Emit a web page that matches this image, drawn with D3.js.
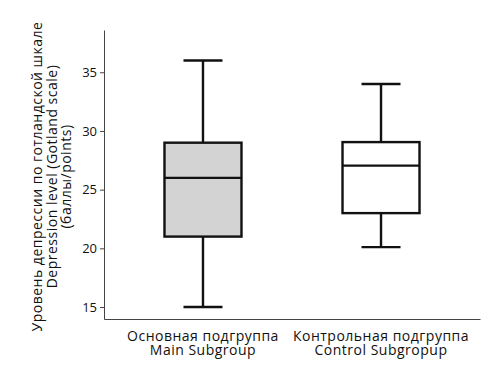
<!DOCTYPE html>
<html>
<head>
<meta charset="utf-8">
<script src="https://cdn.jsdelivr.net/npm/d3@7"></script>
<style>
  body { margin: 0; background: #fff; }
  svg text { font-family: "Open Sans", sans-serif; fill: #111; }
</style>
</head>
<body>
<figure id="box" style="margin:0"></figure>
<script>
// data
const groups = ["Основная подгруппа|Main Subgroup", "Контрольная подгруппа|Control Subgropup"];
const whiskerLow = [15, 20.1];
const q1 = [21, 23];
const median = [26, 27.05];
const q3 = [29, 29.05];
const whiskerHigh = [36, 34];
const fills = ["#d2d3d2", "#ffffff"];
const yTicks = [15, 20, 25, 30, 35];
const yLabel = ["Уровень депрессии по готландской шкале", "Depression level (Gotland scale)", "(баллы/points)"];

const width = 489, height = 373;
const margin = {left: 104, right: 9, top: 30, bottom: 54};

const svg = d3.select("figure#box")
  .append("svg")
  .attr("width", width)
  .attr("height", height);

const x = d3.scalePoint()
  .domain(groups)
  .range([margin.left, width - margin.right])
  .padding(0.556);

const y = d3.scaleLinear()
  .domain([13.98, 38.6])
  .range([height - margin.bottom, margin.top]);

// axes
const yAxis = d3.axisLeft(y).tickValues(yTicks).tickSize(4).tickPadding(3).tickSizeOuter(0);
svg.append("g")
  .attr("transform", `translate(${margin.left},0)`)
  .call(yAxis)
  .call(g => g.selectAll(".tick text").style("font-size", "13px").attr("fill", "#111"))
  .call(g => g.selectAll("line,path").attr("stroke", "#444"));

const xAxis = d3.axisBottom(x).tickSize(0).tickSizeOuter(0).tickFormat("");
svg.append("g")
  .attr("transform", `translate(0,${height - margin.bottom})`)
  .call(xAxis)
  .call(g => g.select("path").attr("stroke", "#444"));

// category labels (two lines)
svg.append("g").selectAll("text")
  .data(groups)
  .enter()
  .append("text")
  .attr("x", d => x(d))
  .attr("y", height - margin.bottom + 22)
  .attr("text-anchor", "middle")
  .style("font-size", "14px")
  .style("letter-spacing", "0.5px")
  .each(function(d) {
    const parts = d.split("|");
    d3.select(this).selectAll("tspan")
      .data(parts)
      .enter()
      .append("tspan")
      .attr("x", x(d))
      .attr("dy", (p, i) => i === 0 ? 0 : 14)
      .text(p => p);
  });

// y label
const yl = svg.append("text")
  .attr("transform", `translate(42,${(margin.top + height - margin.bottom) / 2 + 2}) rotate(-90)`)
  .attr("text-anchor", "middle")
  .style("font-size", "14px")
  .style("letter-spacing", "0.5px");
yl.selectAll("tspan")
  .data(yLabel)
  .enter()
  .append("tspan")
  .attr("x", 0)
  .attr("dy", (d, i) => i === 0 ? 0 : 14.5)
  .text(d => d);

// boxes
const boxW = 77, capW = 39;
const boxes = svg.append("g").selectAll("g")
  .data(groups.map((g, i) => ({g, i})))
  .enter()
  .append("g")
  .attr("stroke", "#111")
  .attr("stroke-width", 2.4);

boxes.append("line")
  .attr("x1", d => x(d.g)).attr("x2", d => x(d.g))
  .attr("y1", d => y(whiskerLow[d.i])).attr("y2", d => y(whiskerHigh[d.i]));
boxes.append("line")
  .attr("x1", d => x(d.g) - capW / 2).attr("x2", d => x(d.g) + capW / 2)
  .attr("y1", d => y(whiskerLow[d.i])).attr("y2", d => y(whiskerLow[d.i]));
boxes.append("line")
  .attr("x1", d => x(d.g) - capW / 2).attr("x2", d => x(d.g) + capW / 2)
  .attr("y1", d => y(whiskerHigh[d.i])).attr("y2", d => y(whiskerHigh[d.i]));
boxes.append("rect")
  .attr("x", d => x(d.g) - boxW / 2)
  .attr("width", boxW)
  .attr("y", d => y(q3[d.i]))
  .attr("height", d => y(q1[d.i]) - y(q3[d.i]))
  .attr("fill", d => fills[d.i]);
boxes.append("line")
  .attr("x1", d => x(d.g) - boxW / 2).attr("x2", d => x(d.g) + boxW / 2)
  .attr("y1", d => y(median[d.i])).attr("y2", d => y(median[d.i]));
</script>
</body>
</html>
